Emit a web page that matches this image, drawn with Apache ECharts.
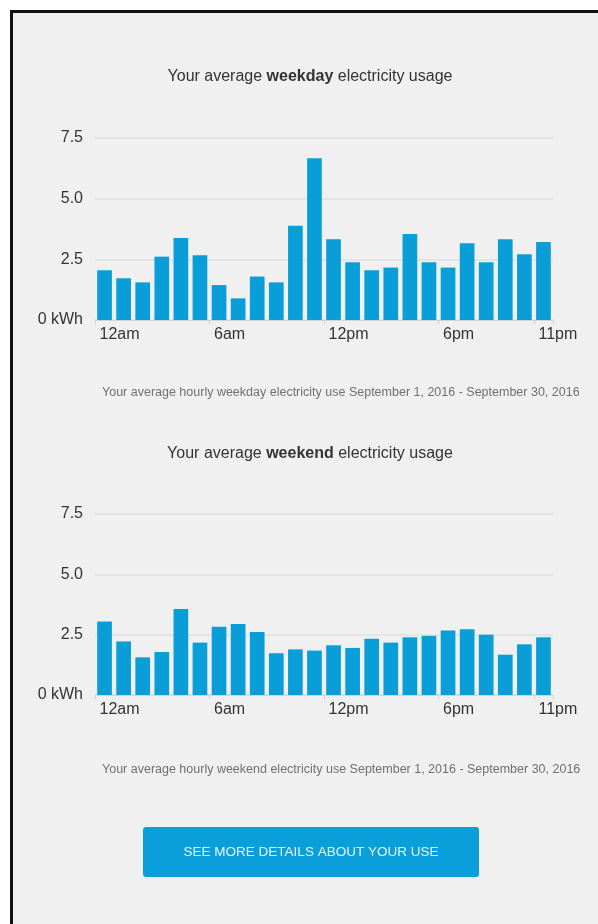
<!DOCTYPE html>
<html>
<head>
<meta charset="utf-8">
<script src="https://cdn.jsdelivr.net/npm/echarts@6/dist/echarts.min.js"></script>
<style>
  html, body { margin: 0; padding: 0; background: #fff; }
  .frame {
    position: absolute;
    left: 10px;
    top: 10px;
    width: 600px;
    height: 930px;
    border-left: 3px solid #111;
    border-top: 3px solid #111;
    background: #f0f0f0;
  }
  #main {
    position: absolute;
    left: 0;
    top: 0;
    width: 598px;
    height: 924px;
  }
</style>
</head>
<body>
<div class="frame"></div>
<div id="main"></div>
<script>
const hours = ['12am', '1am', '2am', '3am', '4am', '5am', '6am', '7am', '8am', '9am', '10am', '11am',
  '12pm', '1pm', '2pm', '3pm', '4pm', '5pm', '6pm', '7pm', '8pm', '9pm', '10pm', '11pm']
const shownHours = ['12am', '6am', '12pm', '6pm', '11pm']
const weekdayUse = [2.05, 1.72, 1.55, 2.61, 3.38, 2.67, 1.44, 0.89, 1.79, 1.55, 3.88, 6.67,
  3.33, 2.38, 2.05, 2.16, 3.54, 2.38, 2.16, 3.16, 2.38, 3.33, 2.71, 3.21]
const weekendUse = [3.05, 2.22, 1.56, 1.78, 3.56, 2.17, 2.83, 2.94, 2.61, 1.73, 1.89, 1.84,
  2.06, 1.95, 2.33, 2.17, 2.39, 2.45, 2.67, 2.72, 2.5, 1.67, 2.1, 2.39]

const barColor = '#0a9ed9'
const textColor = '#333'
const font = '"Liberation Sans", Arial, sans-serif'

function showHour(index) {
  return shownHours.indexOf(hours[index]) !== -1
}

function xAxisFor(gridIndex) {
  return {
    type: 'category',
    gridIndex: gridIndex,
    data: hours,
    axisLine: { lineStyle: { color: '#d4d4d4' } },
    axisTick: {
      show: true,
      interval: showHour,
      length: 4,
      lineStyle: { color: '#d0d0d0' }
    },
    axisLabel: {
      interval: showHour,
      align: 'left',
      padding: [0, 0, 0, -5],
      margin: 7,
      color: textColor,
      fontSize: 16,
      fontFamily: font
    }
  }
}

function yAxisFor(gridIndex) {
  return {
    type: 'value',
    gridIndex: gridIndex,
    min: 0,
    max: 7.5,
    interval: 2.5,
    axisLine: { show: false },
    axisTick: { show: false },
    axisLabel: {
      margin: 12,
      color: textColor,
      fontSize: 16,
      fontFamily: font,
      formatter: v => (v === 0 ? '0 kWh' : v.toFixed(1))
    },
    splitLine: { lineStyle: { color: '#e0e0e0', width: 1.5 } }
  }
}

function titleFor(word, top) {
  return {
    text: 'Your average {b|' + word + '} electricity usage',
    left: 310,
    top: top,
    textAlign: 'center',
    padding: 0,
    textStyle: {
      fontSize: 16,
      fontWeight: 'normal',
      color: textColor,
      fontFamily: font,
      rich: {
        b: { fontSize: 16, fontWeight: 'bold', color: textColor, fontFamily: font }
      }
    }
  }
}

function noteFor(word, top) {
  return {
    text: 'Your average hourly ' + word + ' electricity use September 1, 2016 - September 30, 2016',
    left: 102,
    top: top,
    padding: 0,
    textStyle: {
      fontSize: 12.5,
      fontWeight: 'normal',
      color: '#707070',
      fontFamily: font
    }
  }
}

const chart = echarts.init(document.getElementById('main'))
chart.setOption({
  animation: false,
  backgroundColor: 'transparent',
  title: [
    titleFor('weekday', 69),
    noteFor('weekday', 386),
    titleFor('weekend', 446),
    noteFor('weekend', 763)
  ],
  grid: [
    { left: 95, right: 45, top: 138, height: 182 },
    { left: 95, right: 45, top: 514, height: 181 }
  ],
  xAxis: [xAxisFor(0), xAxisFor(1)],
  yAxis: [yAxisFor(0), yAxisFor(1)],
  series: [
    {
      type: 'bar',
      name: 'weekday',
      xAxisIndex: 0,
      yAxisIndex: 0,
      data: weekdayUse,
      barCategoryGap: '23%',
      itemStyle: { color: barColor }
    },
    {
      type: 'bar',
      name: 'weekend',
      xAxisIndex: 1,
      yAxisIndex: 1,
      data: weekendUse,
      barCategoryGap: '23%',
      itemStyle: { color: barColor }
    }
  ],
  graphic: [
    {
      type: 'group',
      left: 143,
      top: 827,
      children: [
        {
          type: 'rect',
          shape: { x: 0, y: 0, width: 336, height: 50, r: 3 },
          style: { fill: '#0a9fda' }
        },
        {
          type: 'text',
          x: 168,
          y: 25,
          style: {
            text: 'SEE MORE DETAILS ABOUT YOUR USE',
            fill: '#e6f5fb',
            fontSize: 13.5,
            fontFamily: font,
            align: 'center',
            verticalAlign: 'middle'
          }
        }
      ]
    }
  ]
})
</script>
</body>
</html>
